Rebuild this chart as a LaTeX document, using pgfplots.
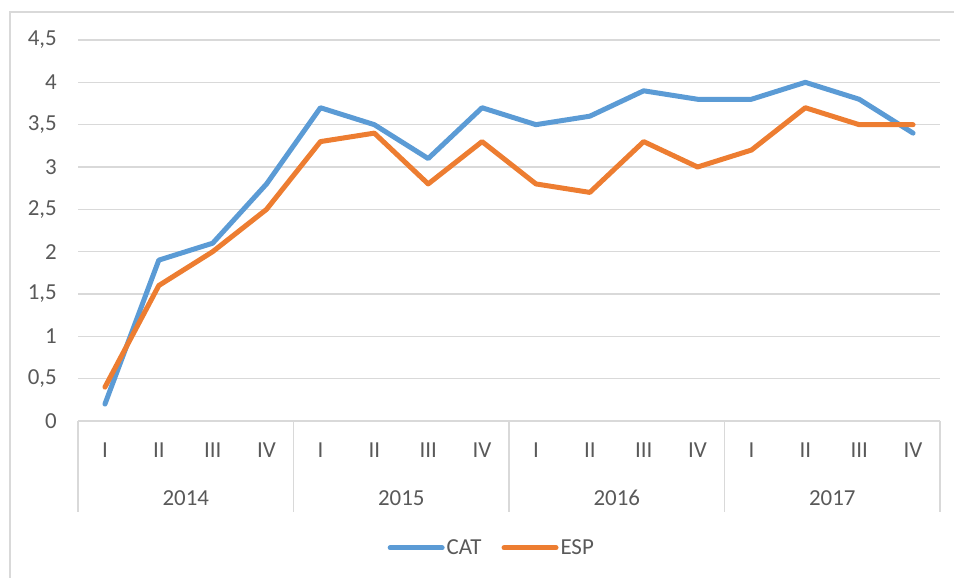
\documentclass[border=0pt]{standalone}
\usepackage{pgfplots}
\pgfplotsset{compat=1.18}
\usepackage{fontspec}
\setmainfont{Carlito}
\definecolor{catc}{HTML}{5B9BD5}
\definecolor{espc}{HTML}{ED7D31}
\definecolor{gridc}{HTML}{D9D9D9}
\definecolor{txtc}{HTML}{595959}
\pgfplotstableread{
x CAT ESP
0 0.2 0.4
1 1.9 1.6
2 2.1 2.0
3 2.8 2.5
4 3.7 3.3
5 3.5 3.4
6 3.1 2.8
7 3.7 3.3
8 3.5 2.8
9 3.6 2.7
10 3.9 3.3
11 3.8 3.0
12 3.8 3.2
13 4.0 3.7
14 3.8 3.5
15 3.4 3.5
}\datatable
\begin{document}
\begin{tikzpicture}
\useasboundingbox (0,0) rectangle (954bp,578bp);
\draw[gridc, line width=1.2bp] (10bp,-10bp) -- (10bp,566bp) -- (960bp,566bp);
\begin{axis}[
  at={(78bp,157bp)}, anchor=south west,
  scale only axis, width=862bp, height=381bp,
  xmin=-0.5, xmax=15.5, ymin=0, ymax=4.5,
  clip=false,
  font=\fontsize{23}{27}\selectfont,
  xtick={0,...,15},
  xticklabels={I,II,III,IV,I,II,III,IV,I,II,III,IV,I,II,III,IV},
  ytick={0,0.5,...,4.5},
  yticklabel style={/pgf/number format/use comma, /pgf/number format/assume math mode=true, inner sep=0pt, xshift=-21bp, text=txtc},
  xticklabel style={inner sep=0pt, anchor=base, yshift=-37bp, text=txtc},
  major tick length=0pt,
  ymajorgrids, grid style={gridc, line width=1.3bp},
  axis line style={draw=none},
  axis x line*=bottom, axis y line*=left,
  legend columns=2,
  legend style={at={(0.48,-0.333)}, anchor=center, draw=none, fill=none,
    text=txtc, font=\fontsize{23}{27}\selectfont,
    /tikz/every even column/.append style={column sep=18bp}},
  legend image code/.code={\draw[#1, line width=5bp, line cap=round] (0bp,0bp) -- (52bp,0bp);},
  legend cell align=left,
]
\draw[gridc, line width=1.3bp] (axis cs:-0.5,0) -- (axis cs:15.5,0);
\pgfplotsinvokeforeach{-0.5,3.5,7.5,11.5,15.5}{
  \draw[gridc, line width=1.3bp] (axis cs:#1,0) -- ++(0bp,-91bp);
}
\node[anchor=base, text=txtc, inner sep=0pt, yshift=-84bp] at (axis cs:1.5,0) {2014};
\node[anchor=base, text=txtc, inner sep=0pt, yshift=-84bp] at (axis cs:5.5,0) {2015};
\node[anchor=base, text=txtc, inner sep=0pt, yshift=-84bp] at (axis cs:9.5,0) {2016};
\node[anchor=base, text=txtc, inner sep=0pt, yshift=-84bp] at (axis cs:13.5,0) {2017};
\addplot[catc, line width=5bp, line join=round, line cap=round] table[x=x, y=CAT] {\datatable};
\addlegendentry{CAT}
\addplot[espc, line width=5bp, line join=round, line cap=round] table[x=x, y=ESP] {\datatable};
\addlegendentry{ESP}
\end{axis}
\end{tikzpicture}
\end{document}
